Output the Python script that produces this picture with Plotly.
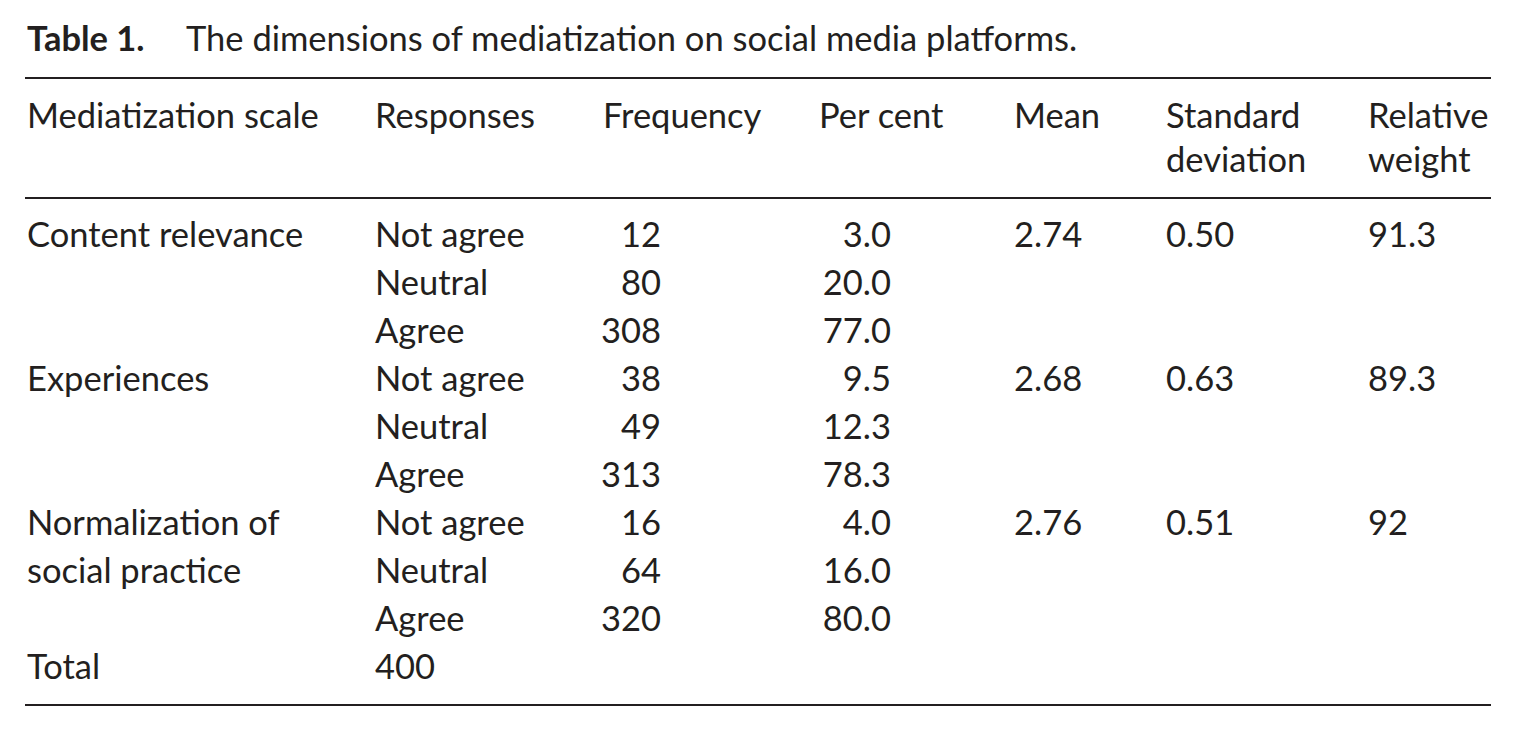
import plotly.graph_objects as go

# table contents
scales = ["Content relevance", "Experiences", "Normalization of", "social practice"]
responses = ["Not agree", "Neutral", "Agree"]
frequency = [12, 80, 308, 38, 49, 313, 16, 64, 320]
percent = [3.0, 20.0, 77.0, 9.5, 12.3, 78.3, 4.0, 16.0, 80.0]
means = [2.74, 2.68, 2.76]
std_devs = [0.50, 0.63, 0.51]
rel_weight = ["91.3", "89.3", "92"]
total = 400
headers = [["Mediatization scale"], ["Responses"], ["Frequency"], ["Per cent"],
           ["Mean"], ["Standard", "deviation"], ["Relative", "weight"]]
title_bold = "Table 1."
title_text = "The dimensions of mediatization on social media platforms."

# layout in page pixels (page body has an 8px margin)
W, H = 1516, 730
PAD = 8
FS = 34.5
FONT = "Lato"
INK = "#231f20"
col_left = [27, 375, 603, 819, 1014, 1166, 1368]
freq_right, pct_right = 661, 891
row0, row_h = 247, 48
head_base = [128, 172]
title_base = 51
rules = [78, 198, 705]


def mid(baseline):
    # plotly centres text with a 0.35em baseline shift; Lato sits a bit high
    return baseline - 0.35 * FS + 3


def row_y(i):
    return mid(row0 + i * row_h)


fig = go.Figure()


def add_text(xs, ys, texts, pos="middle right", bold=False):
    fig.add_trace(go.Scatter(
        x=xs, y=ys, text=texts, mode="text", textposition=pos,
        textfont=dict(family=FONT, size=FS, color=INK,
                      weight="bold" if bold else "normal"),
        hoverinfo="skip", showlegend=False))


# title
add_text([27], [mid(title_base)], [title_bold], bold=True)
add_text([186], [mid(title_base)], [title_text])

# header
hx, hy, ht = [], [], []
for c, lines in enumerate(headers):
    for k, t in enumerate(lines):
        hx.append(col_left[c])
        hy.append(mid(head_base[k]))
        ht.append(t)
add_text(hx, hy, ht)

# first column: scale names (last one wraps over two rows)
scale_rows = [0, 3, 6, 7]
add_text([col_left[0]] * len(scales), [row_y(r) for r in scale_rows], scales)

# responses
n = len(frequency)
add_text([col_left[1]] * n, [row_y(i) for i in range(n)],
         [responses[i % 3] for i in range(n)])

# frequency and per cent, right aligned
add_text([freq_right] * n, [row_y(i) for i in range(n)],
         [str(v) for v in frequency], pos="middle left")
add_text([pct_right] * n, [row_y(i) for i in range(n)],
         [f"{v:.1f}" for v in percent], pos="middle left")

# mean / sd / relative weight on the first row of each block
grp = [row_y(3 * g) for g in range(len(means))]
add_text([col_left[4]] * len(means), grp, [f"{v:.2f}" for v in means])
add_text([col_left[5]] * len(std_devs), grp, [f"{v:.2f}" for v in std_devs])
add_text([col_left[6]] * len(rel_weight), grp, rel_weight)

# total row
add_text([col_left[0], col_left[1]], [row_y(n), row_y(n)], ["Total", str(total)])

for y in rules:
    fig.add_shape(type="line", x0=25, x1=1491, y0=y, y1=y,
                  xref="x", yref="y", line=dict(color=INK, width=2))

fig.update_layout(
    width=W - 2 * PAD, height=H - 2 * PAD, margin=dict(l=0, r=0, t=0, b=0),
    paper_bgcolor="white", plot_bgcolor="white",
    xaxis=dict(range=[PAD, W - PAD], visible=False, fixedrange=True),
    yaxis=dict(range=[H - PAD, PAD], visible=False, fixedrange=True),
)

fig.write_html("out.html")
